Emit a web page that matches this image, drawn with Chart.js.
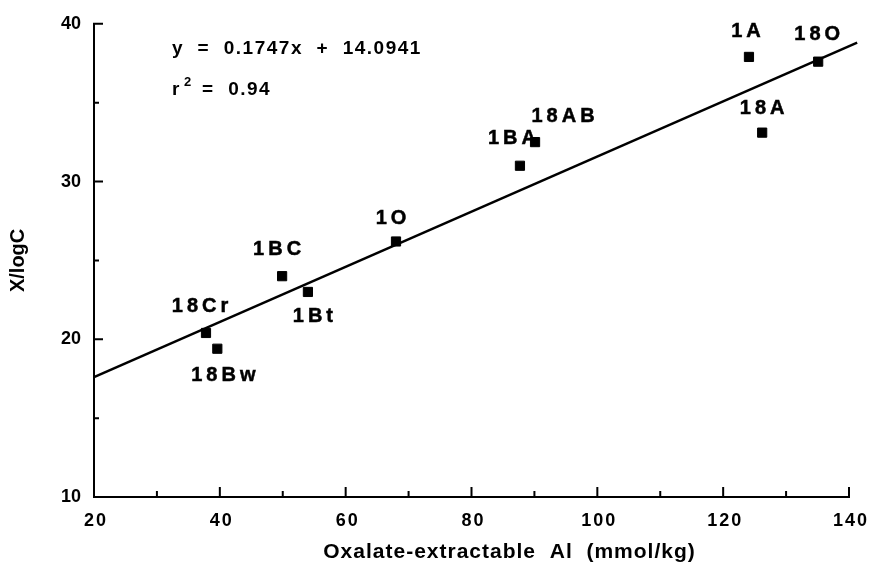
<!DOCTYPE html>
<html>
<head>
<meta charset="utf-8">
<script src="https://cdn.jsdelivr.net/npm/chart.js@4.4.0/dist/chart.umd.min.js"></script>
<style>
  html, body { margin: 0; padding: 0; background: #fff; }
  #wrap { width: 874px; height: 571px; }
</style>
</head>
<body>
<div id="wrap"><canvas id="myChart"></canvas></div>
<script>
// Dados
const sampleNames = ['18Cr', '18Bw', '1BC', '1Bt', '1O', '1BA', '18AB', '1A', '18A', '18O'];
const oxalateAl = [37.8, 39.6, 49.9, 54.0, 68.0, 87.7, 90.1, 124.1, 126.2, 135.1];
const xLogC = [20.4, 19.4, 24.0, 23.0, 26.2, 31.0, 32.5, 37.9, 33.1, 37.6];

// Reta de regressão (extremos)
const fitX = [20, 141.3];
const fitY = [17.6, 38.8];

const xTickValues = [20, 40, 60, 80, 100, 120, 140];
const xMinorValues = [30, 50, 70, 90, 110, 130];
const yTickValues = [10, 20, 30, 40];
const yMinorValues = [15, 25, 35];

const xTitle = 'Oxalate-extractable  Al  (mmol/kg)';

// deslocamento dos rótulos em relação ao ponto (px)
const labelOffsets = [[-6, -26], [6, 27], [-5, -27], [5, 25], [-5, -23], [-8, -27], [28, -26], [-3, -25], [0, -24], [-1, -27]];

const FONT = '"Liberation Sans", Arial, sans-serif';

// Eixos, marcas internas, rótulos dos pontos, equação e rótulos do eixo x
const extras = {
    id: 'extras',
    afterDraw(chart) {
        const { ctx, scales: { x, y } } = chart;
        const left = x.left, bottom = y.bottom;
        ctx.save();
        ctx.strokeStyle = '#000';
        ctx.fillStyle = '#000';
        ctx.lineWidth = 2;
        ctx.lineCap = 'square';

        ctx.beginPath();
        // eixos
        ctx.moveTo(left, y.top);
        ctx.lineTo(left, bottom);
        ctx.lineTo(x.right, bottom);
        // ticks do eixo x (para dentro)
        xTickValues.forEach(v => {
            const px = x.getPixelForValue(v);
            ctx.moveTo(px, bottom);
            ctx.lineTo(px, bottom - 9);
        });
        xMinorValues.forEach(v => {
            const px = x.getPixelForValue(v);
            ctx.moveTo(px, bottom);
            ctx.lineTo(px, bottom - 5);
        });
        // ticks do eixo y
        yTickValues.forEach(v => {
            const py = y.getPixelForValue(v);
            ctx.moveTo(left, py);
            ctx.lineTo(left + 8, py);
        });
        yMinorValues.forEach(v => {
            const py = y.getPixelForValue(v);
            ctx.moveTo(left, py);
            ctx.lineTo(left + 4, py);
        });
        ctx.stroke();

        // rótulos dos pontos
        ctx.lineWidth = 0.5;
        ctx.font = 'bold 20px ' + FONT;
        ctx.textAlign = 'center';
        ctx.textBaseline = 'middle';
        ctx.letterSpacing = '4px';
        sampleNames.forEach((name, i) => {
            const px = x.getPixelForValue(oxalateAl[i]) + labelOffsets[i][0] + 2;
            const py = y.getPixelForValue(xLogC[i]) + labelOffsets[i][1];
            ctx.fillText(name, px, py);
            ctx.strokeText(name, px, py);
        });

        // rótulos do eixo x
        ctx.font = 'bold 18px ' + FONT;
        ctx.letterSpacing = '2px';
        xTickValues.forEach(v => {
            ctx.fillText(String(v), x.getPixelForValue(v) + 2, bottom + 24);
        });

        // título do eixo x
        ctx.font = 'bold 21px ' + FONT;
        ctx.letterSpacing = '1px';
        ctx.fillText(xTitle, (x.left + x.right) / 2 + 38, bottom + 55);

        // equação
        ctx.textAlign = 'left';
        ctx.letterSpacing = '1.5px';
        ctx.font = 'bold 19px ' + FONT;
        ctx.fillText('y  =  0.1747x  +  14.0941', left + 78, 49);
        ctx.fillText('r', left + 78, 90);
        ctx.font = 'bold 13px ' + FONT;
        ctx.fillText('2', left + 90, 82);
        ctx.font = 'bold 19px ' + FONT;
        ctx.fillText('=  0.94', left + 108, 90);
        ctx.restore();
    }
};

const config = {
    type: 'scatter',
    data: {
        datasets: [
            {
                label: 'pontos',
                data: oxalateAl.map((v, i) => ({ x: v, y: xLogC[i] })),
                backgroundColor: '#000',
                borderColor: '#000',
                pointStyle: 'rect',
                pointRadius: 6.5,
                pointHoverRadius: 6.5
            },
            {
                label: 'regressão',
                type: 'line',
                data: fitX.map((v, i) => ({ x: v, y: fitY[i] })),
                borderColor: '#000',
                borderWidth: 2.5,
                pointRadius: 0,
                fill: false,
                clip: false
            }
        ]
    },
    options: {
        responsive: true,
        maintainAspectRatio: false,
        animation: false,
        layout: { padding: { left: 0, right: 25, top: 18, bottom: 0 } },
        plugins: {
            legend: { display: false },
            tooltip: { enabled: false }
        },
        scales: {
            x: {
                type: 'linear',
                min: 20,
                max: 140,
                afterFit(scale) { scale.height = 74; },
                border: { display: false },
                grid: { display: false, drawTicks: false },
                ticks: { display: false, stepSize: 20 },
                title: { display: false }
            },
            y: {
                type: 'linear',
                min: 10,
                max: 40,
                afterFit(scale) { scale.width = 94; },
                border: { display: false },
                grid: { display: false, drawTicks: false },
                ticks: {
                    stepSize: 10,
                    color: '#000',
                    padding: 13,
                    font: { family: FONT, size: 18, weight: 'bold' }
                },
                title: {
                    display: true,
                    text: 'X/logC',
                    color: '#000',
                    font: { family: FONT, size: 20, weight: 'bold' },
                    padding: { top: 6, bottom: 0 }
                }
            }
        }
    },
    plugins: [extras]
};

const ctx = document.getElementById('myChart').getContext('2d');
new Chart(ctx, config);
</script>
</body>
</html>
